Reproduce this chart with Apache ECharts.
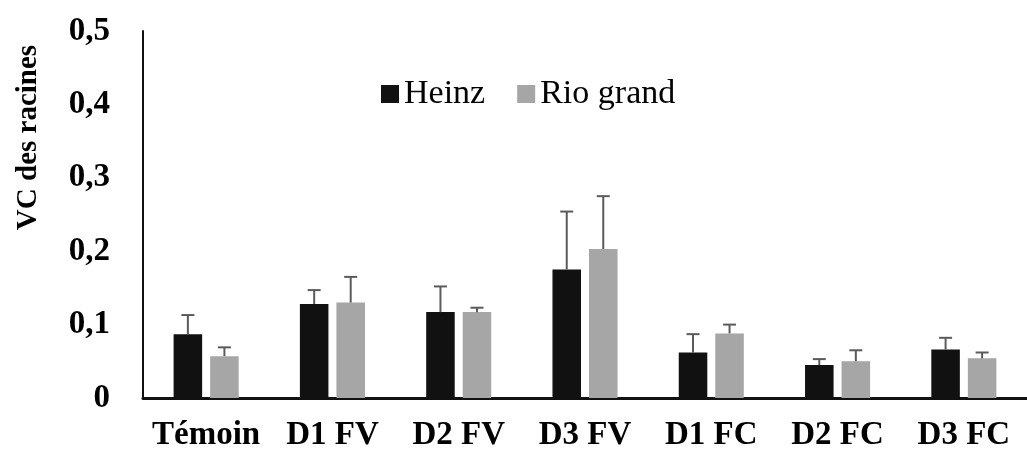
<!DOCTYPE html>
<html>
<head>
<meta charset="utf-8">
<script src="https://cdn.jsdelivr.net/npm/echarts@6/dist/echarts.min.js"></script>
<style>
html,body{margin:0;padding:0;background:#fff;}
#c{width:1027px;height:454px;}
</style>
</head>
<body>
<div id="c"></div>
<script>
const categories = ['Témoin', 'D1 FV', 'D2 FV', 'D3 FV', 'D1 FC', 'D2 FC', 'D3 FC'];
const heinz = [0.087, 0.128, 0.117, 0.175, 0.062, 0.045, 0.066];
const heinzErr = [0.026, 0.019, 0.035, 0.079, 0.025, 0.008, 0.016];
const rio = [0.057, 0.130, 0.117, 0.203, 0.088, 0.050, 0.054];
const rioErr = [0.012, 0.035, 0.006, 0.072, 0.012, 0.015, 0.008];
const seriesNames = ['Heinz', 'Rio grand'];

const BAR_W = 0.226, BAR_GAP = 0.28;
const font = "'Liberation Serif', 'Times New Roman', serif";

function errSeries(vals, errs, side) {
  return {
    type: 'custom',
    silent: true,
    z: 5,
    data: vals.map((v, i) => [i, v, v + errs[i]]),
    renderItem: function (params, api) {
      const i = api.value(0);
      const band = api.size([1, 0])[0];
      const off = side * band * BAR_W * (1 + BAR_GAP) / 2;
      const p0 = api.coord([i, api.value(1)]);
      const p1 = api.coord([i, api.value(2)]);
      const x = p0[0] + off;
      const st = { stroke: '#5b5b5b', lineWidth: 2 };
      return {
        type: 'group',
        children: [
          { type: 'line', shape: { x1: x, y1: p0[1], x2: x, y2: p1[1] }, style: st },
          { type: 'line', shape: { x1: x - 6.5, y1: p1[1], x2: x + 6.5, y2: p1[1] }, style: st }
        ]
      };
    }
  };
}

const chart = echarts.init(document.getElementById('c'));
chart.setOption({
  animation: false,
  backgroundColor: '#fff',
  grid: { left: 143, right: 0, top: 31, bottom: 56 },
  legend: {
    data: seriesNames,
    left: 376,
    top: 72,
    itemWidth: 18,
    itemHeight: 18,
    itemGap: 32,
    icon: 'rect',
    textStyle: { fontFamily: font, fontSize: 34, color: '#000' }
  },
  xAxis: {
    type: 'category',
    data: categories,
    axisLine: { lineStyle: { color: '#111', width: 3 } },
    axisTick: { show: false },
    axisLabel: { fontFamily: font, fontWeight: 'bold', fontSize: 33, color: '#000', margin: 21, interval: 0 }
  },
  yAxis: {
    type: 'value',
    min: 0, max: 0.5, interval: 0.1,
    name: 'VC des racines',
    nameLocation: 'middle',
    nameGap: 100,
    nameTextStyle: { fontFamily: font, fontWeight: 'bold', fontSize: 29, color: '#000', padding: [0, 0, 0, 154] },
    axisLine: { show: true, lineStyle: { color: '#111', width: 2 } },
    axisTick: { show: false },
    splitLine: { show: false },
    axisLabel: {
      fontFamily: font, fontWeight: 'bold', fontSize: 33, color: '#000', margin: 33,
      formatter: v => v === 0 ? '0' : v.toFixed(1).replace('.', ',')
    }
  },
  series: [
    { name: seriesNames[0], type: 'bar', data: heinz, barWidth: (BAR_W * 100) + '%', barGap: (BAR_GAP * 100) + '%',
      itemStyle: { color: '#111111' } },
    { name: seriesNames[1], type: 'bar', data: rio, barWidth: (BAR_W * 100) + '%',
      itemStyle: { color: '#a6a6a6' } },
    errSeries(heinz, heinzErr, -1),
    errSeries(rio, rioErr, 1)
  ]
});
</script>
</body>
</html>
